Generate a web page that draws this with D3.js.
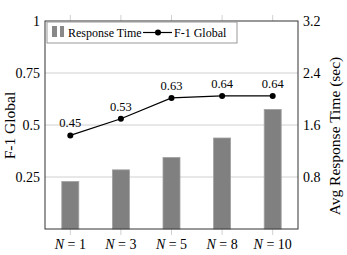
<!DOCTYPE html>
<html>
<head>
<meta charset="utf-8">
<script src="https://cdn.jsdelivr.net/npm/d3@7"></script>
<style>
  body { margin: 0; background: #fff; }
</style>
</head>
<body>
<div id="wrapper"></div>
<script>
// data
const categories = ["1", "3", "5", "8", "10"];
const responseTime = [0.73, 0.91, 1.10, 1.40, 1.84];
const f1Global = [0.45, 0.53, 0.63, 0.64, 0.64];
const leftTicks = [0.25, 0.5, 0.75, 1];
const rightTicks = [0.8, 1.6, 2.4, 3.2];

const width = 347;
const height = 255;
const margin = { top: 21, right: 49, bottom: 26, left: 45 };
const boundedWidth = width - margin.left - margin.right;
const boundedHeight = height - margin.top - margin.bottom;

const serif = "'Liberation Serif', 'DejaVu Serif', 'Times New Roman', serif";

const svg = d3.select("#wrapper")
  .append("svg")
  .attr("width", width)
  .attr("height", height)
  .attr("font-family", serif)
  .style("font-family", serif);

const bounds = svg.append("g")
  .attr("transform", `translate(${margin.left},${margin.top})`);

const xScale = d3.scalePoint()
  .domain(categories)
  .range([0, boundedWidth])
  .padding(0.5);

const yLeft = d3.scaleLinear().domain([0, 1]).range([boundedHeight, 0]);
const yRight = d3.scaleLinear().domain([0, 3.2]).range([boundedHeight, 0]);

const gridColor = "#d0d0d0";

// horizontal grid
bounds.append("g")
  .selectAll("line")
  .data(leftTicks.slice(0, 3))
  .join("line")
  .attr("x1", 0)
  .attr("x2", boundedWidth)
  .attr("y1", d => yLeft(d))
  .attr("y2", d => yLeft(d))
  .attr("stroke", gridColor)
  .attr("stroke-width", 1);

// small gray ticks above and below the frame
const tickGroup = bounds.append("g");
tickGroup.selectAll("line.top")
  .data(categories)
  .join("line")
  .attr("class", "top")
  .attr("x1", d => xScale(d))
  .attr("x2", d => xScale(d))
  .attr("y1", -6)
  .attr("y2", 0)
  .attr("stroke", gridColor);
tickGroup.selectAll("line.bottom")
  .data(categories)
  .join("line")
  .attr("class", "bottom")
  .attr("x1", d => xScale(d))
  .attr("x2", d => xScale(d))
  .attr("y1", boundedHeight)
  .attr("y2", boundedHeight + 6)
  .attr("stroke", gridColor);

// bars
const barWidth = 17;
bounds.append("g")
  .selectAll("rect")
  .data(responseTime)
  .join("rect")
  .attr("x", (d, i) => xScale(categories[i]) - barWidth / 2)
  .attr("y", d => yRight(d))
  .attr("width", barWidth)
  .attr("height", d => boundedHeight - yRight(d))
  .attr("fill", "#808080")
  .attr("stroke", "#a0a0a0")
  .attr("stroke-width", 0.8);

// line
const line = d3.line()
  .x((d, i) => xScale(categories[i]))
  .y(d => yLeft(d));

bounds.append("path")
  .datum(f1Global)
  .attr("d", line)
  .attr("fill", "none")
  .attr("stroke", "#000")
  .attr("stroke-width", 1.2);

bounds.append("g")
  .selectAll("circle")
  .data(f1Global)
  .join("circle")
  .attr("cx", (d, i) => xScale(categories[i]))
  .attr("cy", d => yLeft(d))
  .attr("r", 3)
  .attr("fill", "#000");

bounds.append("g")
  .selectAll("text")
  .data(f1Global)
  .join("text")
  .attr("x", (d, i) => xScale(categories[i]))
  .attr("y", d => yLeft(d) - 8)
  .attr("text-anchor", "middle")
  .attr("font-size", "12.5px")
  .attr("fill", "#000")
  .text(d => d3.format(".2f")(d));

// frame
bounds.append("rect")
  .attr("width", boundedWidth)
  .attr("height", boundedHeight)
  .attr("fill", "none")
  .attr("stroke", "#333")
  .attr("stroke-width", 1);

// left axis labels
bounds.append("g")
  .selectAll("text")
  .data(leftTicks)
  .join("text")
  .attr("x", -5)
  .attr("y", d => yLeft(d))
  .attr("dy", "0.35em")
  .attr("text-anchor", "end")
  .attr("font-size", "14px")
  .text(d => d3.format("")(d));

// right axis labels
bounds.append("g")
  .selectAll("text")
  .data(rightTicks)
  .join("text")
  .attr("x", boundedWidth + 5)
  .attr("y", d => yRight(d))
  .attr("dy", "0.35em")
  .attr("text-anchor", "start")
  .attr("font-size", "14px")
  .text(d => d3.format(".1f")(d));

// x labels
const xLabels = bounds.append("g")
  .selectAll("text")
  .data(categories)
  .join("text")
  .attr("x", d => xScale(d))
  .attr("y", boundedHeight + 20)
  .attr("text-anchor", "middle")
  .attr("font-size", "14px");
xLabels.append("tspan").attr("font-style", "italic").text("N");
xLabels.append("tspan").text(d => " = " + d);

// axis titles
svg.append("text")
  .attr("transform", "translate(15,125.5) rotate(-90)")
  .attr("text-anchor", "middle")
  .attr("font-size", "15.5px")
  .text("F-1 Global");

svg.append("text")
  .attr("transform", "translate(340,136) rotate(-90)")
  .attr("text-anchor", "middle")
  .attr("font-size", "15.5px")
  .text("Avg Response Time (sec)");

// legend
const legend = svg.append("g").attr("transform", "translate(47,22)");
legend.append("rect")
  .attr("width", 190)
  .attr("height", 21)
  .attr("fill", "#fff")
  .attr("stroke", "#999")
  .attr("stroke-width", 1);
[[5, 5], [13, 4]].forEach(([x, w]) => {
  legend.append("rect")
    .attr("x", x)
    .attr("y", 4)
    .attr("width", w)
    .attr("height", 11)
    .attr("fill", "#888");
});
legend.append("text")
  .attr("x", 21)
  .attr("y", 15)
  .attr("font-size", "12px")
  .text("Response Time");
legend.append("line")
  .attr("x1", 96)
  .attr("x2", 125)
  .attr("y1", 10.5)
  .attr("y2", 10.5)
  .attr("stroke", "#000")
  .attr("stroke-width", 1.2);
legend.append("circle")
  .attr("cx", 111)
  .attr("cy", 10.5)
  .attr("r", 3)
  .attr("fill", "#000");
legend.append("text")
  .attr("x", 127)
  .attr("y", 15)
  .attr("font-size", "12px")
  .text("F-1 Global");
</script>
</body>
</html>
